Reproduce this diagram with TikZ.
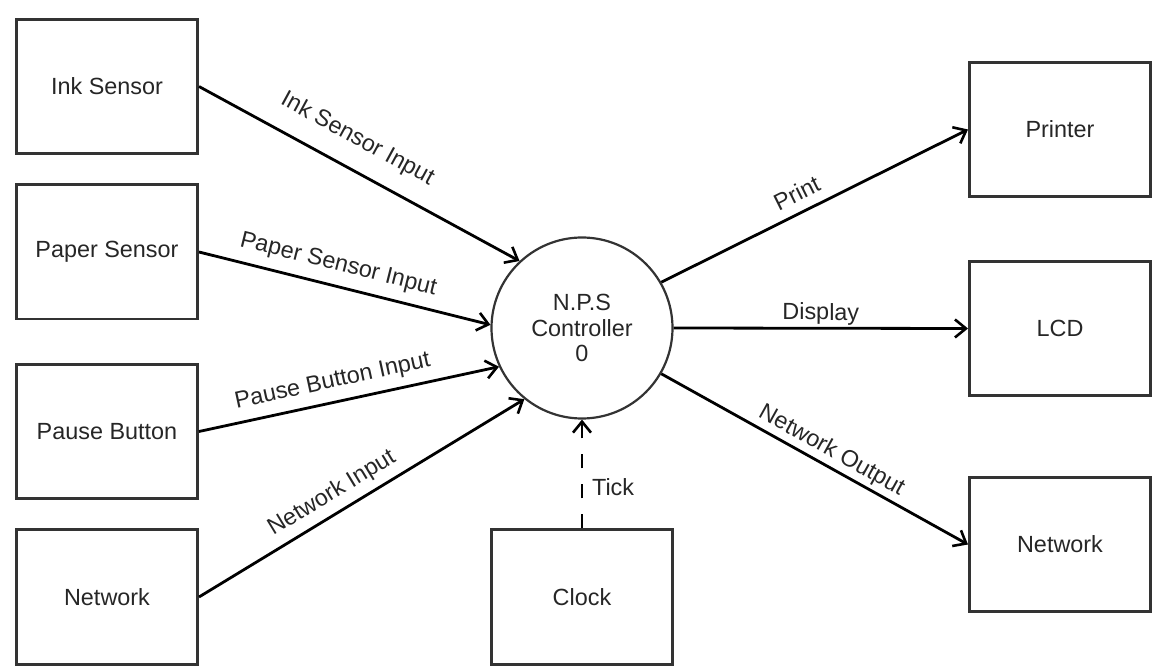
\documentclass[tikz,border=0pt]{standalone}
\usepackage{fontspec}
\setmainfont{Liberation Sans}
\usetikzlibrary{arrows.meta}

\begin{document}
\begin{tikzpicture}[x=0.5pt,y=-0.5pt,
		font=\fontsize{11.7}{12.8}\selectfont,
		block/.style={draw=black!80,line width=1.3pt,minimum width=90.7pt,minimum height=67.2pt,text=black!85,inner sep=0pt},
		proc/.style={circle,draw=black!80,line width=1.1pt,minimum size=90.5pt,align=center,text=black!85,inner sep=0pt},
		flow/.style={line width=1.4pt,-{Straight Barb[length=5.5pt,width=9pt,line width=1.3pt]}},
		lbl/.style={sloped,text=black!85,inner sep=1pt}]
			\useasboundingbox (0,0) rectangle (1153,668);
			\node[block] (ink) at (107,86.5) {Ink Sensor};
			\node[block] (paper) at (107,252) {Paper Sensor};
			\node[block] (pause) at (107,431.5) {Pause Button};
			\node[block] (netin) at (107,597) {Network};
			\node[block] (clock) at (582,597) {Clock};
			\node[proc] (ctrl) at (582,328) {N.P.S\\Controller\\0};
			\node[block] (printer) at (1060,129.5) {Printer};
			\node[block] (lcd) at (1060,328.5) {LCD};
			\node[block] (netout) at (1060,544.5) {Network};
			\draw[flow] (ink.east) -- (ctrl.133) node[lbl,pos=0.45,above=7.6pt] {Ink Sensor Input};
			\draw[flow] (paper.east) -- (ctrl.178) node[lbl,pos=0.46,above=3.6pt] {Paper Sensor Input};
			\draw[flow] (pause.east) -- (ctrl.205) node[lbl,pos=0.46,above=3.2pt] {Pause Button Input};
			\draw[flow] (netin.east) -- (ctrl.231) node[lbl,pos=0.44,above=2.6pt] {Network Input};
			\draw[flow,dash pattern=on 7pt off 8pt] (clock.north) -- (ctrl.south) node[pos=0.38,right=1pt,text=black!85] {Tick};
			\draw[flow] (ctrl.30) -- (printer.west) node[lbl,pos=0.47,above=3.8pt] {Print};
			\draw[flow] (ctrl.east) -- (lcd.west) node[lbl,pos=0.5,above=0pt] {Display};
			\draw[flow] (ctrl.330) -- (netout.west) node[lbl,pos=0.53,above=0.6pt] {Network Output};
		\end{tikzpicture}
\end{document}
